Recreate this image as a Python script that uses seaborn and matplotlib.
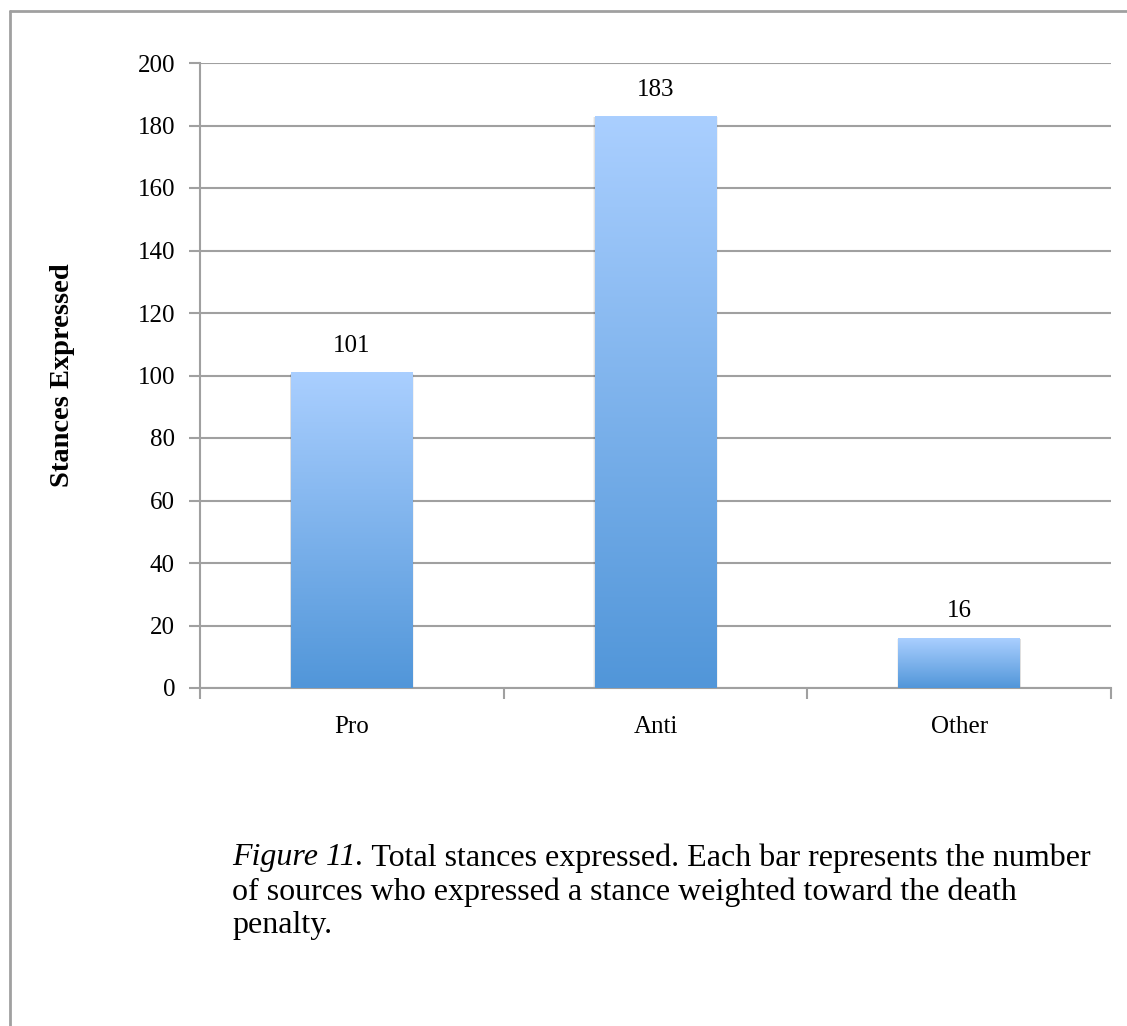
import numpy as np
import matplotlib
matplotlib.use("Agg")
import matplotlib.pyplot as plt
import seaborn as sns
from matplotlib.colors import LinearSegmentedColormap
from matplotlib.lines import Line2D

categories = ["Pro", "Anti", "Other"]
stances = [101, 183, 16]
y_ticks = [0, 20, 40, 60, 80, 100, 120, 140, 160, 180, 200]

sns.set_style("white")
plt.rcParams['font.family'] = ['Liberation Serif', 'DejaVu Serif']
plt.rcParams['text.color'] = 'black'
plt.rcParams['axes.labelcolor'] = 'black'
plt.rcParams['xtick.color'] = 'black'
plt.rcParams['ytick.color'] = 'black'

fig = plt.figure(figsize=(11.27, 10.26), dpi=100)
ax = fig.add_axes([200 / 1127, (1026 - 688) / 1026, 911 / 1127, 625 / 1026])

sns.barplot(x=categories, y=stances, width=0.4, color="#7fb2ee", ax=ax, zorder=3)

grid_col = "#a0a0a0"
ax.set_xlim(-0.5, 2.5)
ax.set_ylim(0, 200)
ax.set_yticks(y_ticks)
ax.set_yticklabels([str(t) for t in y_ticks], fontsize=18)
ax.tick_params(axis="y", left=True, length=8, width=1.5, color=grid_col, labelcolor="black", pad=10)
ax.set_xticks([-0.5, 0.5, 1.5, 2.5], minor=False)
ax.set_xticklabels([])
ax.set_xticks([0, 1, 2], minor=True)
ax.set_xticklabels(categories, minor=True, fontsize=18)
ax.tick_params(axis="x", which="major", bottom=True, length=8, width=1.5, color=grid_col)
ax.tick_params(axis="x", which="minor", bottom=True, length=0, pad=20, labelcolor="black")
ax.yaxis.grid(True, color=grid_col, linewidth=1.5, zorder=0)
ax.set_axisbelow(True)
for side in ["top", "right"]:
    ax.spines[side].set_visible(False)
for side in ["left", "bottom"]:
    ax.spines[side].set_color(grid_col)
    ax.spines[side].set_linewidth(1.5)
ax.set_xlabel("")
ax.set_ylabel("Stances Expressed", fontsize=20.5, fontweight="bold", color="black")
ax.yaxis.set_label_coords(-0.137, 0.5)

# gradient fill per bar, light on top to darker at base
cmap = LinearSegmentedColormap.from_list("bar", ["#5196d9", "#aacfff"])
grad = np.linspace(0, 1, 256).reshape(-1, 1)
for p, v in zip(list(ax.patches), stances):
    x0, w, h = p.get_x(), p.get_width(), p.get_height()
    # soft shadow
    for k, a in zip([0.005, 0.01], [0.08, 0.05]):
        sh = plt.Rectangle((x0 - k / 2, -0.8), w + k, h + 0.4, color="black", alpha=a, zorder=2, lw=0)
        ax.add_patch(sh)
    p.set_alpha(0)
    im = ax.imshow(grad, extent=[x0, x0 + w, 0, h], origin="lower", cmap=cmap,
                   aspect="auto", zorder=4, interpolation="bilinear")
    clip = plt.Rectangle((x0, 0), w, h, transform=ax.transData, facecolor="none", edgecolor="none")
    ax.add_patch(clip)
    im.set_clip_path(clip)
    ax.text(x0 + w / 2, h + 5, str(v), ha="center", va="bottom", fontsize=18, zorder=5)
ax.set_xlim(-0.5, 2.5)
ax.set_ylim(0, 200)

# page frame
fig.add_artist(Line2D([9.5 / 1127, 9.5 / 1127], [0, 1 - 11 / 1026], color=grid_col, lw=2))
fig.add_artist(Line2D([9.5 / 1127, 1], [1 - 11 / 1026, 1 - 11 / 1026], color=grid_col, lw=2))

# caption
cap_size = 23
x0 = 232 / 1127
y1 = 1 - 858 / 1026
t1 = fig.text(x0, y1, "Figure 11.", style="italic", fontsize=cap_size, va="center")
fig.canvas.draw()
bb = t1.get_window_extent(renderer=fig.canvas.get_renderer())
fig.text(bb.x1 / 1127, y1, " Total stances expressed. Each bar represents the number",
         fontsize=cap_size, va="center")
fig.text(x0, 1 - 892 / 1026, "of sources who expressed a stance weighted toward the death",
         fontsize=cap_size, va="center")
fig.text(x0, 1 - 926 / 1026, "penalty.", fontsize=cap_size, va="center")

fig.savefig("out.png", dpi=100)
